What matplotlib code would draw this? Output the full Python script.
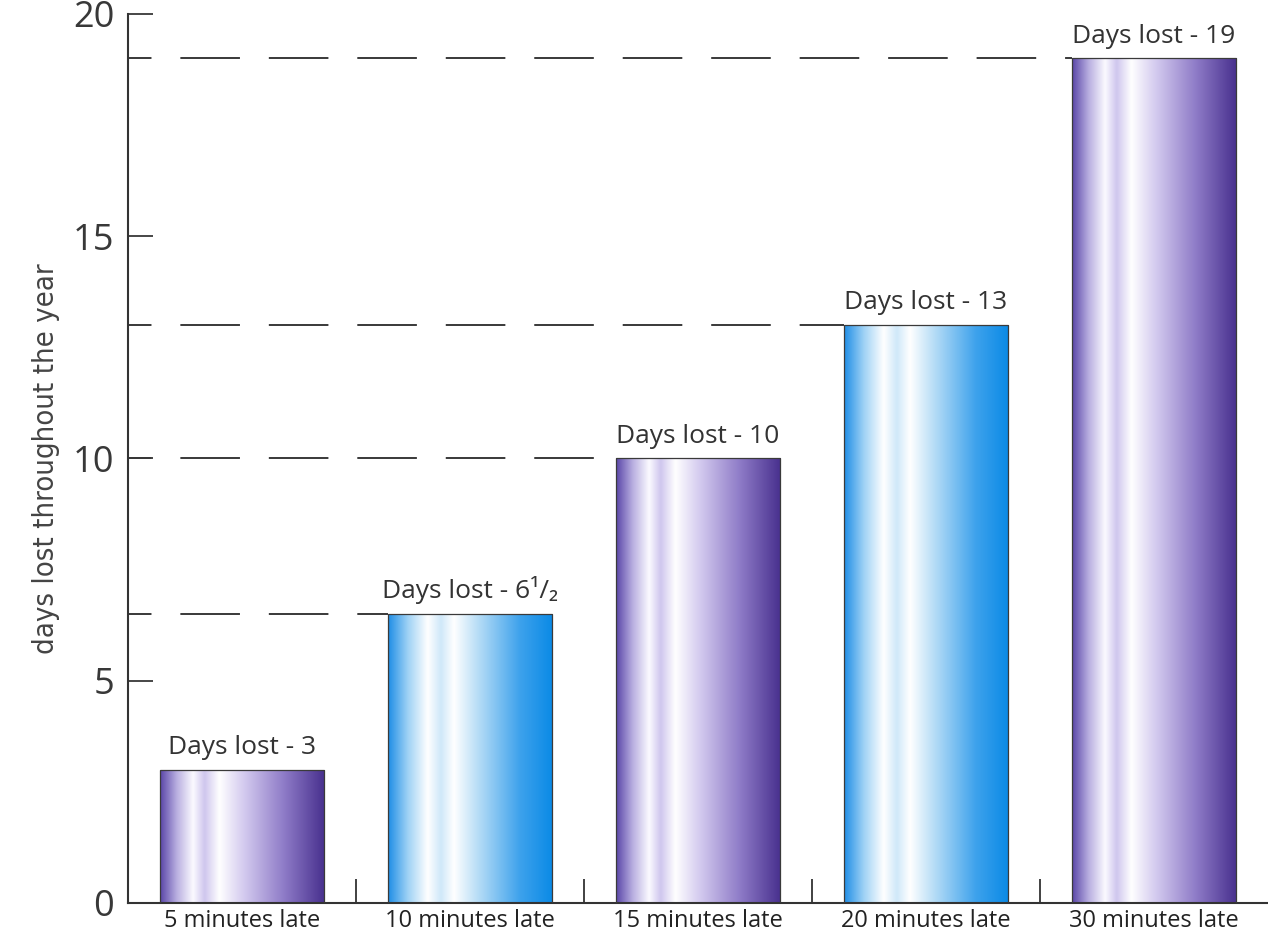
import numpy as np
import matplotlib
matplotlib.use("Agg")
import matplotlib.pyplot as plt
from matplotlib.colors import LinearSegmentedColormap

categories = ["5 minutes late", "10 minutes late", "15 minutes late",
              "20 minutes late", "30 minutes late"]
days_lost = [3, 6.5, 10, 13, 19]
bar_labels = ["Days lost - 3", "Days lost - 6\u00b9/\u2082", "Days lost - 10",
              "Days lost - 13", "Days lost - 19"]
bar_styles = ["purple", "blue", "purple", "blue", "purple"]
y_ticks = [0, 5, 10, 15, 20]

plt.rcParams['font.family'] = ['Open Sans', 'DejaVu Sans']

# cylinder-like shading across each bar
purple = LinearSegmentedColormap.from_list("purple", [
    (0.00, "#5a46a8"), (0.10, "#b8aee0"), (0.20, "#fbfaff"), (0.27, "#cfc6ee"),
    (0.36, "#ffffff"), (0.50, "#d6cdf0"), (0.75, "#8f7cc8"), (1.00, "#48308e")])
blue = LinearSegmentedColormap.from_list("blue", [
    (0.00, "#1f8ee6"), (0.12, "#9fd2f5"), (0.24, "#ffffff"), (0.32, "#cfe8f9"),
    (0.40, "#ffffff"), (0.55, "#b5dcf6"), (0.80, "#3ea2ec"), (1.00, "#0a8ae6")])
cmaps = {"purple": purple, "blue": blue}

fig = plt.figure(figsize=(12.68, 9.36), dpi=100)
ax = fig.add_axes([0.101, 0.0353, 0.899, 0.9498])

x = np.arange(len(categories))
width = 0.72
bars = ax.bar(x, days_lost, width=width, facecolor="none",
              edgecolor="#3a3a3a", linewidth=0.9, zorder=3)

grad = np.linspace(0, 1, 256).reshape(1, -1)
for b, style in zip(bars, bar_styles):
    x0 = b.get_x()
    h = b.get_height()
    im = ax.imshow(grad, cmap=cmaps[style], aspect="auto",
                   extent=(x0, x0 + b.get_width(), 0, h), zorder=2,
                   interpolation="bicubic")
    im.set_clip_path(b)

# dashed guide lines from the axis to each bar
for b, v in zip(bars, days_lost):
    if v < 5:
        continue
    ax.plot([-0.5, b.get_x()], [v, v], color="#2a2a2a", linewidth=1.3,
            linestyle=(20, (33, 16)), zorder=1)

for b, lab in zip(bars, bar_labels):
    ax.annotate(lab, (b.get_x() + b.get_width() / 2, b.get_height()),
                xytext=(0, 7), textcoords="offset points", ha="center",
                va="bottom", fontsize=19, color="#333333")

ax.set_xlim(-0.5, 4.5)
ax.set_ylim(0, 20)
ax.set_yticks(y_ticks)
ax.tick_params(axis="y", direction="in", length=18, width=1.3,
               labelsize=26, pad=10, colors="#383838")
ax.set_xticks(x)
ax.set_xticklabels(categories, fontsize=17, color="#222222")
ax.tick_params(axis="x", which="major", length=0, pad=4)
ax.set_xticks(x[:-1] + 0.5, minor=True)
ax.tick_params(axis="x", which="minor", direction="in", length=17,
               width=1.3, color="#333333")

for s in ["top", "right"]:
    ax.spines[s].set_visible(False)
for s in ["left", "bottom"]:
    ax.spines[s].set_color("#333333")
    ax.spines[s].set_linewidth(1.5)

ax.set_ylabel("days lost throughout the year", fontsize=21,
              family=['Liberation Sans Narrow', 'DejaVu Sans'],
              fontstretch="condensed", color="#444444", labelpad=9)

fig.savefig("out.png", dpi=100)
